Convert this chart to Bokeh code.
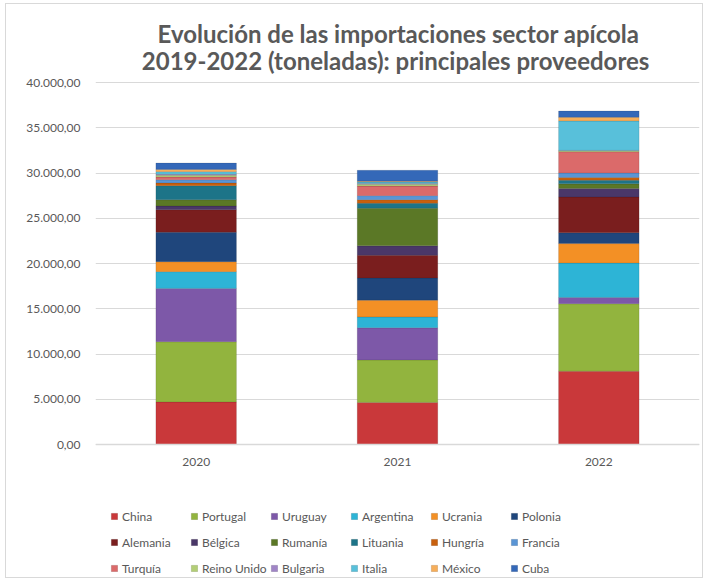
from bokeh.plotting import figure
from bokeh.models import Range1d, FactorRange, FixedTicker, Legend, Span, ColumnDataSource
from bokeh.core.properties import value
from bokeh.embed import file_html
from bokeh.resources import INLINE

years = ["2020", "2021", "2022"]
countries = ["China", "Portugal", "Uruguay", "Argentina", "Ucrania", "Polonia",
             "Alemania", "Bélgica", "Rumanía", "Lituania", "Hungría", "Francia",
             "Turquía", "Reino Unido", "Bulgaria", "Italia", "México", "Cuba"]

china = [4700, 4650, 8100]
portugal = [6650, 4700, 7450]
uruguay = [5900, 3550, 700]
argentina = [1850, 1200, 3800]
ucrania = [1100, 1850, 2150]
polonia = [3250, 2450, 1200]
alemania = [2500, 2500, 3950]
belgica = [400, 1050, 950]
rumania = [700, 4150, 500]
lituania = [1550, 550, 400]
hungria = [300, 400, 300]
francia = [350, 450, 500]
turquia = [300, 1050, 2350]
reino_unido = [200, 200, 100]
bulgaria = [100, 100, 50]
italia = [300, 150, 3250]
mexico = [250, 100, 400]
cuba = [700, 1200, 700]

series = [china, portugal, uruguay, argentina, ucrania, polonia, alemania, belgica,
          rumania, lituania, hungria, francia, turquia, reino_unido, bulgaria,
          italia, mexico, cuba]

colors = ["#C9383A", "#92B43E", "#7D58A8", "#2DB4D6", "#F39025", "#1F467C",
          "#7A1E1E", "#4A3768", "#5B7826", "#1D7488", "#C8600E", "#5A95D5",
          "#DB6A6A", "#B3CE76", "#A085C6", "#58C0DA", "#F6AE5A", "#3468B8"]

y_ticks = [0, 5000, 10000, 15000, 20000, 25000, 30000, 35000, 40000]
y_tick_labels = ["0,00", "5.000,00", "10.000,00", "15.000,00", "20.000,00",
                 "25.000,00", "30.000,00", "35.000,00", "40.000,00"]

title_lines = ["Evolución de las importaciones sector apícola",
               "2019-2022  (toneladas): principales proveedores"]

FONT = "Lato"
GREY = "#595959"

# layout (pixels)
FIG_W, FIG_H = 698, 575
LEFT, RIGHT = 89, 5
AXIS_PX = 362          # pixel height from 0 to 40000
ABOVE_PX = 78          # room above the 40000 line (title)
BELOW_PX = 135         # room below the zero line (year labels + legend)
Y_MAX = y_ticks[-1]
y_min = -Y_MAX * BELOW_PX / AXIS_PX
y_top = Y_MAX + Y_MAX * ABOVE_PX / AXIS_PX

data = {"year": years}
for name, vals in zip(countries, series):
    data[name] = vals

p = figure(x_range=FactorRange(*years, range_padding=0), y_range=Range1d(y_min, y_top),
           width=FIG_W, height=FIG_H, output_backend="svg", toolbar_location=None,
           x_axis_location=None,
           min_border_left=LEFT, min_border_right=RIGHT, min_border_top=0,
           min_border_bottom=0, title=None,
           styles={"border": "1px solid #D9D9D9", "margin-left": "5px",
                   "margin-top": "3px"})

renderers = p.vbar_stack(countries, x="year", width=0.4, source=data,
                         fill_color=colors, line_color="#00000030", line_width=0.6)

# title: two centred lines above the plot area
title_src = ColumnDataSource(dict(x=[years[1], years[1]], y=[Y_MAX, Y_MAX],
                                  t=title_lines, dy=[-49, -22]))
p.text(x="x", y="y", text="t", source=title_src, y_offset="dy", x_offset=1,
       text_align="center", text_baseline="middle", text_font=value(FONT),
       text_font_size="24px", text_font_style="bold", text_color=GREY)

p.yaxis.ticker = FixedTicker(ticks=y_ticks)
p.yaxis.major_label_overrides = {t: l for t, l in zip(y_ticks, y_tick_labels)}
p.yaxis.axis_line_color = None
p.yaxis.major_tick_line_color = None
p.yaxis.minor_tick_line_color = None
p.yaxis.major_label_standoff = 9
p.yaxis.major_label_text_font = FONT
p.yaxis.major_label_text_font_size = "12px"
p.yaxis.major_label_text_color = GREY

p.xgrid.grid_line_color = None
p.ygrid.grid_line_color = "#D9D9D9"
p.ygrid.grid_line_width = 1.2
p.outline_line_color = None

# category axis line at zero and year labels
p.add_layout(Span(location=0, dimension="width", line_color="#D9D9D9", line_width=1.5))
label_src = ColumnDataSource(dict(x=years, y=[0] * len(years), t=years))
p.text(x="x", y="y", text="t", source=label_src, y_offset=17,
       text_align="center", text_baseline="middle", text_font=value(FONT),
       text_font_size="12px", text_color=GREY)

# legend: three rows of six
row_bottoms = [55, 29, 3]
for r in range(3):
    items = [(countries[i], [renderers[i]]) for i in range(r * 6, r * 6 + 6)]
    legend = Legend(items=items, orientation="horizontal",
                    location=(15, row_bottoms[r]), margin=0, padding=0, spacing=0,
                    glyph_width=8, glyph_height=8, label_standoff=4,
                    label_width=68, label_height=16,
                    label_text_font=FONT, label_text_font_size="12px",
                    label_text_color=GREY, border_line_color=None,
                    background_fill_alpha=0)
    p.add_layout(legend, "center")

open("out.html", "w").write(file_html(p, INLINE))
